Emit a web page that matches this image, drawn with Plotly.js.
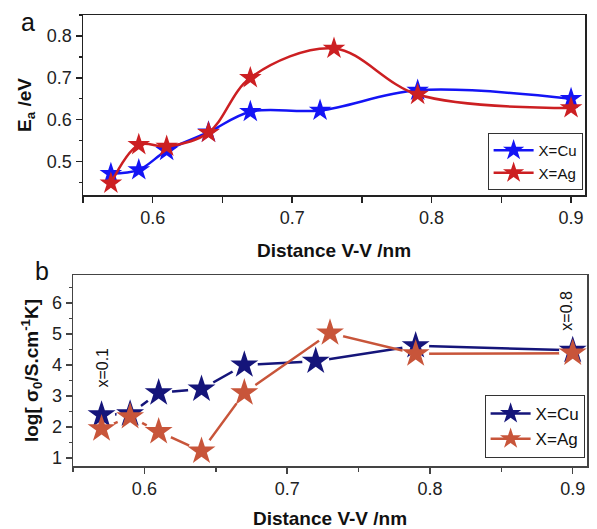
<!DOCTYPE html>
<html>
<head>
<meta charset="utf-8">
<script src="https://cdn.plot.ly/plotly-3.0.1.min.js"></script>
<style>html,body{margin:0;padding:0;background:#fff;}#chart{width:597px;height:529px;}</style>
</head>
<body>
<div id="chart"></div>
<script>
// Panel a: activation energy
const distCu = [0.57, 0.59, 0.61, 0.64, 0.67, 0.72, 0.79, 0.90];
const distAg = [0.57, 0.59, 0.61, 0.64, 0.67, 0.73, 0.79, 0.90];
const eaCu = [0.471, 0.480, 0.526, 0.570, 0.619, 0.622, 0.670, 0.650];
const eaAg = [0.448, 0.540, 0.536, 0.569, 0.700, 0.770, 0.660, 0.628];
// Panel b: log sigma0
const sigCu = [2.39, 2.42, 3.10, 3.22, 4.00, 4.12, 4.62, 4.47];
const sigAg = [1.94, 2.33, 1.85, 1.22, 3.10, 5.03, 4.36, 4.38];
const seriesNames = ['X=Cu', 'X=Ag'];

const cuA = '#1414f5', agA = '#cc1f22';
const cuB = '#15157a', agB = '#c8553a';
const F = 'Arial, Liberation Sans, sans-serif';

const traces = [
  {x: distCu, y: eaCu, name: seriesNames[0], mode: 'lines+markers', line: {color: cuA, width: 2.5, shape: 'spline', smoothing: 1}, marker: {symbol: 'star', size: 17, color: cuA}, xaxis: 'x', yaxis: 'y', legend: 'legend'},
  {x: distAg, y: eaAg, name: seriesNames[1], mode: 'lines+markers', line: {color: agA, width: 2.5, shape: 'spline', smoothing: 1}, marker: {symbol: 'star', size: 17, color: agA}, xaxis: 'x', yaxis: 'y', legend: 'legend'},
  // panel b lines
  {x: distCu, y: sigCu, mode: 'lines', line: {color: cuB, width: 2.5}, xaxis: 'x2', yaxis: 'y2', showlegend: false, hoverinfo: 'skip'},
  {x: distAg, y: sigAg, mode: 'lines', line: {color: agB, width: 2.5}, xaxis: 'x2', yaxis: 'y2', showlegend: false, hoverinfo: 'skip'},
  // white halos for gaps
  {x: distCu, y: sigCu, mode: 'markers', marker: {symbol: 'circle', size: 27, color: '#ffffff'}, xaxis: 'x2', yaxis: 'y2', showlegend: false, hoverinfo: 'skip'},
  {x: distAg, y: sigAg, mode: 'markers', marker: {symbol: 'circle', size: 27, color: '#ffffff'}, xaxis: 'x2', yaxis: 'y2', showlegend: false, hoverinfo: 'skip'},
  {x: distCu, y: sigCu, mode: 'markers', marker: {symbol: 'star', size: 21, color: cuB}, xaxis: 'x2', yaxis: 'y2', showlegend: false},
  {x: distAg, y: sigAg, mode: 'markers', marker: {symbol: 'star', size: 21, color: agB}, xaxis: 'x2', yaxis: 'y2', showlegend: false},
  // legend-only entries for panel b
  {x: [null], y: [null], name: seriesNames[0], mode: 'lines+markers', line: {color: cuB, width: 2.5}, marker: {symbol: 'star', size: 20, color: cuB}, xaxis: 'x2', yaxis: 'y2', legend: 'legend2'},
  {x: [null], y: [null], name: seriesNames[1], mode: 'lines+markers', line: {color: agB, width: 2.5}, marker: {symbol: 'star', size: 20, color: agB}, xaxis: 'x2', yaxis: 'y2', legend: 'legend2'}
];

const tickF = {family: F, size: 18, color: '#222'};
const titleF = {family: F, size: 19, color: '#111', weight: 'bold'};
const H = 529, W = 597;

const layout = {
  width: W, height: H,
  margin: {l: 0, r: 0, t: 0, b: 0},
  paper_bgcolor: '#fff', plot_bgcolor: '#fff',
  font: {family: F},
  xaxis: {
    domain: [83/W, 585/W], range: [0.55, 0.91], anchor: 'y',
    showgrid: false, zeroline: false, showline: true, linecolor: '#222', linewidth: 1.5, mirror: true,
    ticks: 'outside', ticklen: 6, tickwidth: 1.5, tickcolor: '#222', dtick: 0.1, tick0: 0.6, tickformat: '.1f',
    minor: {ticks: 'outside', ticklen: 6, dtick: 0.05, tickcolor: '#222', tickwidth: 1.5},
    tickfont: tickF,
    title: {text: 'Distance V-V /nm', font: titleF, standoff: 16}
  },
  xaxis3: {
    range: [0.55, 0.91], overlaying: 'x', side: 'top', anchor: 'y', matches: 'x',
    showgrid: false, zeroline: false, showline: false, showticklabels: false,
    ticks: 'inside', ticklen: 6, tickwidth: 1.5, tickcolor: '#222', dtick: 0.05, tick0: 0.6
  },
  yaxis: {
    domain: [1 - 195/H, 1 - 15/H], range: [0.42, 0.85], anchor: 'x',
    showgrid: false, zeroline: false, showline: true, linecolor: '#222', linewidth: 1.5, mirror: true,
    ticks: 'outside', ticklen: 6, tickwidth: 1.5, tickcolor: '#222', dtick: 0.1, tick0: 0.5, tickformat: '.1f',
    minor: {ticks: 'outside', ticklen: 3, dtick: 0.05, tickcolor: '#222', tickwidth: 1.5},
    tickfont: tickF,
    title: {text: '<b>E<sub>a</sub> /eV</b>', font: titleF, standoff: 10}
  },
  xaxis2: {
    domain: [73/W, 587/W], range: [0.55, 0.91], anchor: 'y2',
    showgrid: false, zeroline: false, showline: true, linecolor: '#444', linewidth: 1.5, mirror: true,
    ticks: 'outside', ticklen: 6, tickwidth: 1.5, tickcolor: '#444', dtick: 0.1, tick0: 0.6, tickformat: '.1f',
    minor: {ticks: 'outside', ticklen: 4, dtick: 0.05, tickcolor: '#444', tickwidth: 1.5},
    tickfont: tickF,
    title: {text: 'Distance V-V /nm', font: titleF, standoff: 18}
  },
  yaxis2: {
    domain: [1 - 466/H, 1 - 275/H], range: [0.74, 6.9], anchor: 'x2',
    showgrid: false, zeroline: false, showline: true, linecolor: '#444', linewidth: 1.5, mirror: true,
    ticks: 'outside', ticklen: 6, tickwidth: 1.5, tickcolor: '#444', dtick: 1, tick0: 1,
    minor: {ticks: 'outside', ticklen: 3, dtick: 0.5, tickcolor: '#444', tickwidth: 1.5},
    tickfont: tickF,
    title: {text: '<b>log[ σ<sub>0</sub>/S.cm<sup>-1</sup>K]</b>', font: titleF, standoff: 8}
  },
  legend: {
    x: 585/W - 0.004, xanchor: 'right', y: 1 - 190/H, yanchor: 'bottom',
    bgcolor: '#fff', bordercolor: '#333', borderwidth: 1,
    font: {family: F, size: 15, color: '#111'}, tracegroupgap: 0, itemwidth: 40
  },
  legend2: {
    x: 587/W - 0.004, xanchor: 'right', y: 1 - 458/H, yanchor: 'bottom',
    bgcolor: '#fff', bordercolor: '#333', borderwidth: 1,
    font: {family: F, size: 17, color: '#111'}, tracegroupgap: 0, itemwidth: 40
  },
  annotations: [
    {text: 'a', xref: 'paper', yref: 'paper', x: 28/W, y: 1 - 22/H, xanchor: 'center', yanchor: 'middle', showarrow: false, font: {family: F, size: 25, color: '#111'}},
    {text: 'b', xref: 'paper', yref: 'paper', x: 42/W, y: 1 - 271/H, xanchor: 'center', yanchor: 'middle', showarrow: false, font: {family: F, size: 25, color: '#111'}},
    {text: 'x=0.1', xref: 'x2', yref: 'y2', x: 0.570, y: 3.9, textangle: -90, showarrow: false, font: {family: F, size: 16, color: '#111'}},
    {text: 'x=0.8', xref: 'x2', yref: 'y2', x: 0.896, y: 5.75, textangle: -90, showarrow: false, font: {family: F, size: 16, color: '#111'}}
  ]
};

Plotly.newPlot('chart', traces, layout, {displayModeBar: false, staticPlot: true});
</script>
</body>
</html>
